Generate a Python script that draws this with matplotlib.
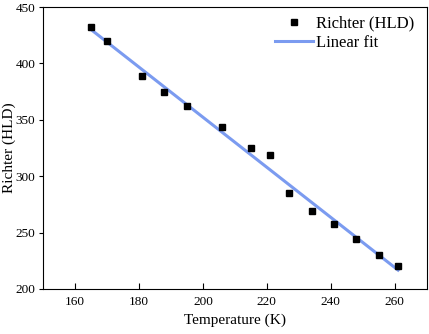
import numpy as np
from matplotlib import pyplot as plt

# Data
temperature = [165, 170, 181, 188, 195, 206, 215, 221, 227, 234, 241, 248, 255, 261]
richter = [432, 420, 389, 375, 362, 344, 325, 319, 285, 269, 258, 244, 230, 220]

x_ticks = [160, 180, 200, 220, 240, 260]
y_ticks = [200, 250, 300, 350, 400, 450]

plt.rcParams['font.family'] = ['Liberation Serif', 'DejaVu Serif']

fig = plt.figure(figsize=(4.29, 3.34), dpi=100)
ax = fig.add_axes([0.100, 0.135, 0.895, 0.844])

t = np.array(temperature, dtype=float)
r = np.array(richter, dtype=float)
slope, intercept = np.polyfit(t, r, 1)
t_fit = np.array([t.min(), t.max()])

ax.plot(t, r, 's', color='black', markersize=4.5, label='Richter (HLD)', zorder=3)
ax.plot(t_fit, slope * t_fit + intercept, color='#7b9bf0', linewidth=2.2, label='Linear fit', zorder=2)

ax.set_xlim(150, 270)
ax.set_ylim(200, 450)
ax.set_xticks(x_ticks)
ax.set_yticks(y_ticks)
ax.tick_params(axis='x', direction='in', length=4, labelsize=9.5, pad=5)
ax.tick_params(axis='y', direction='out', length=3, labelsize=9.5, pad=2.5)

ax.set_xlabel('Temperature (K)', fontsize=11, labelpad=4)
ax.set_ylabel('Richter (HLD)', fontsize=11, va='center')
ax.yaxis.set_label_coords(-0.088, 0.5)

ax.legend(loc='upper right', bbox_to_anchor=(0.99, 1.0), frameon=False, fontsize=12,
          handlelength=2.3, handletextpad=0.2, borderaxespad=0.1, labelspacing=0.2)

fig.savefig('out.png', dpi=100)
